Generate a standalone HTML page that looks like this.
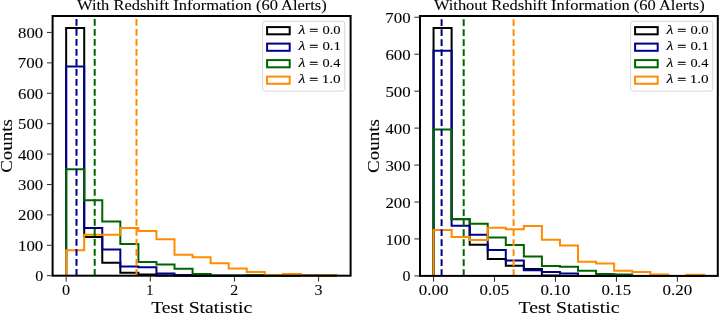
<!DOCTYPE html>
<html><head><meta charset="utf-8"><style>
html,body{margin:0;padding:0;background:#fff;}
svg{display:block;will-change:transform;}
text{font-family:"Liberation Serif",serif;fill:#000;stroke:#000;stroke-width:0.08px;}
.eq{stroke-width:0.3px;}
</style></head><body>
<svg width="719" height="313" viewBox="0 0 719 313">
<rect width="719" height="313" fill="#fff"/>
<path d="M66.15,275.70 L66.15,27.89 L84.21,27.89 L84.21,237.08 L102.27,237.08 L102.27,262.63 L120.33,262.63 L120.33,272.66 L138.39,272.66 L138.39,274.48 L156.45,274.48 L156.45,275.40 L174.51,275.40 L174.51,275.70 L192.57,275.70 L192.57,275.70 L210.63,275.70 L210.63,275.70 L228.69,275.70 L228.69,275.70 L246.75,275.70 L246.75,275.70 L264.81,275.70 L264.81,275.70 L282.87,275.70 L282.87,275.70 L300.93,275.70 L300.93,275.70 L318.99,275.70 L318.99,275.70 L337.05,275.70 L337.05,275.70" fill="none" stroke="#000000" stroke-width="2" stroke-linejoin="miter" stroke-linecap="butt"/>
<path d="M66.15,275.70 L66.15,66.51 L84.21,66.51 L84.21,227.96 L102.27,227.96 L102.27,249.55 L120.33,249.55 L120.33,266.58 L138.39,266.58 L138.39,267.19 L156.45,267.19 L156.45,273.57 L174.51,273.57 L174.51,275.09 L192.57,275.09 L192.57,275.70 L210.63,275.70 L210.63,275.70 L228.69,275.70 L228.69,275.70 L246.75,275.70 L246.75,275.70 L264.81,275.70 L264.81,275.70 L282.87,275.70 L282.87,275.70 L300.93,275.70 L300.93,275.70 L318.99,275.70 L318.99,275.70 L337.05,275.70 L337.05,275.70" fill="none" stroke="#00008b" stroke-width="2" stroke-linejoin="miter" stroke-linecap="butt"/>
<path d="M66.15,275.70 L66.15,169.28 L84.21,169.28 L84.21,200.29 L102.27,200.29 L102.27,221.58 L120.33,221.58 L120.33,244.08 L138.39,244.08 L138.39,262.02 L156.45,262.02 L156.45,264.45 L174.51,264.45 L174.51,268.71 L192.57,268.71 L192.57,273.88 L210.63,273.88 L210.63,275.70 L228.69,275.70 L228.69,275.70 L246.75,275.70 L246.75,275.09 L264.81,275.09 L264.81,275.70 L282.87,275.70 L282.87,275.70 L300.93,275.70 L300.93,275.70 L318.99,275.70 L318.99,275.70 L337.05,275.70 L337.05,275.70" fill="none" stroke="#006400" stroke-width="2" stroke-linejoin="miter" stroke-linecap="butt"/>
<path d="M66.15,275.70 L66.15,250.16 L84.21,250.16 L84.21,234.65 L102.27,234.65 L102.27,234.65 L120.33,234.65 L120.33,227.96 L138.39,227.96 L138.39,231.00 L156.45,231.00 L156.45,239.21 L174.51,239.21 L174.51,254.72 L192.57,254.72 L192.57,257.30 L210.63,257.30 L210.63,263.23 L228.69,263.23 L228.69,268.40 L246.75,268.40 L246.75,272.05 L264.81,272.05 L264.81,275.09 L282.87,275.09 L282.87,273.88 L300.93,273.88 L300.93,275.70 L318.99,275.70 L318.99,275.40 L337.05,275.40 L337.05,275.70" fill="none" stroke="#ff8c00" stroke-width="2" stroke-linejoin="miter" stroke-linecap="butt"/>
<path d="M76.50,275.70 L76.50,16.00" stroke="#00008b" stroke-width="2" stroke-dasharray="6.6 3.4" fill="none"/>
<path d="M94.70,275.70 L94.70,16.00" stroke="#006400" stroke-width="2" stroke-dasharray="6.6 3.4" fill="none"/>
<path d="M136.50,275.70 L136.50,16.00" stroke="#ff8c00" stroke-width="2" stroke-dasharray="6.6 3.4" fill="none"/>
<rect x="52.6" y="16.0" width="298.00" height="259.70" fill="none" stroke="#000" stroke-width="2"/>
<path d="M66.15,276.70 L66.15,281.60" stroke="#000" stroke-width="0.85"/>
<text transform="translate(62.11,294.80) scale(1.0653,1)" style="font-size:15.17px;">0</text>
<path d="M150.30,276.70 L150.30,281.60" stroke="#000" stroke-width="0.85"/>
<text transform="translate(146.37,294.80) scale(0.9400,1)" style="font-size:15.29px;">1</text>
<path d="M234.45,276.70 L234.45,281.60" stroke="#000" stroke-width="0.85"/>
<text transform="translate(230.35,294.80) scale(1.0457,1)" style="font-size:15.24px;">2</text>
<path d="M318.60,276.70 L318.60,281.60" stroke="#000" stroke-width="0.85"/>
<text transform="translate(314.54,294.80) scale(1.0499,1)" style="font-size:15.24px;">3</text>
<path d="M47.00,275.70 L51.60,275.70" stroke="#000" stroke-width="0.85"/>
<text transform="translate(35.22,281.25) scale(1.0308,1)" style="font-size:15.51px;">0</text>
<path d="M47.00,245.29 L51.60,245.29" stroke="#000" stroke-width="0.85"/>
<text transform="translate(17.99,250.84) scale(1.0856,1)" style="font-size:15.51px;">100</text>
<path d="M47.00,214.89 L51.60,214.89" stroke="#000" stroke-width="0.85"/>
<text transform="translate(18.00,220.44) scale(1.0849,1)" style="font-size:15.51px;">200</text>
<path d="M47.00,184.48 L51.60,184.48" stroke="#000" stroke-width="0.85"/>
<text transform="translate(18.04,190.03) scale(1.0831,1)" style="font-size:15.51px;">300</text>
<path d="M47.00,154.08 L51.60,154.08" stroke="#000" stroke-width="0.85"/>
<text transform="translate(17.91,159.63) scale(1.0891,1)" style="font-size:15.51px;">400</text>
<path d="M47.00,123.67 L51.60,123.67" stroke="#000" stroke-width="0.85"/>
<text transform="translate(17.99,129.22) scale(1.0853,1)" style="font-size:15.51px;">500</text>
<path d="M47.00,93.26 L51.60,93.26" stroke="#000" stroke-width="0.85"/>
<text transform="translate(18.01,98.81) scale(1.0848,1)" style="font-size:15.51px;">600</text>
<path d="M47.00,62.86 L51.60,62.86" stroke="#000" stroke-width="0.85"/>
<text transform="translate(17.84,68.41) scale(1.0921,1)" style="font-size:15.51px;">700</text>
<path d="M47.00,32.45 L51.60,32.45" stroke="#000" stroke-width="0.85"/>
<text transform="translate(18.09,38.00) scale(1.0810,1)" style="font-size:15.51px;">800</text>
<text transform="translate(77.08,10.20) scale(1.1455,1)" style="font-size:14.36px;">With Redshift Information (60 Alerts)</text>
<text transform="translate(151.19,312.70) scale(1.1532,1)" style="font-size:17.10px;">Test Statistic</text>
<g transform="translate(12.00,145.85) rotate(-90)"><text transform="translate(-26.93,0.00) scale(1.1091,1)" style="font-size:17.10px;">Counts</text></g>
<rect x="262.60" y="21.3" width="82.2" height="69.8" rx="2.5" ry="2.5" fill="#fff" fill-opacity="0.8" stroke="#cccccc" stroke-opacity="0.8" stroke-width="1"/>
<rect x="267.10" y="27.10" width="22.6" height="7.2" fill="none" stroke="#000000" stroke-width="2"/>
<text transform="translate(298.48,33.90) scale(1.3536,1)" style="font-size:11.80px;font-style:italic;">λ</text>
<text transform="translate(309.30,34.90) scale(1.2087,1)" style="font-size:13.17px;" class="eq">=</text>
<text transform="translate(322.45,33.90) scale(1.1063,1)" style="font-size:13.17px;">0.0</text>
<rect x="267.10" y="43.60" width="22.6" height="7.2" fill="none" stroke="#00008b" stroke-width="2"/>
<text transform="translate(298.48,50.40) scale(1.3536,1)" style="font-size:11.80px;font-style:italic;">λ</text>
<text transform="translate(309.30,51.40) scale(1.2087,1)" style="font-size:13.17px;" class="eq">=</text>
<text transform="translate(322.44,50.40) scale(1.1274,1)" style="font-size:13.17px;">0.1</text>
<rect x="267.10" y="60.10" width="22.6" height="7.2" fill="none" stroke="#006400" stroke-width="2"/>
<text transform="translate(298.48,66.90) scale(1.3536,1)" style="font-size:11.80px;font-style:italic;">λ</text>
<text transform="translate(309.30,67.90) scale(1.2087,1)" style="font-size:13.17px;" class="eq">=</text>
<text transform="translate(322.46,66.90) scale(1.0859,1)" style="font-size:13.17px;">0.4</text>
<rect x="267.10" y="76.60" width="22.6" height="7.2" fill="none" stroke="#ff8c00" stroke-width="2"/>
<text transform="translate(298.48,83.40) scale(1.3536,1)" style="font-size:11.80px;font-style:italic;">λ</text>
<text transform="translate(309.30,84.40) scale(1.2087,1)" style="font-size:13.17px;" class="eq">=</text>
<text transform="translate(321.66,83.40) scale(1.1555,1)" style="font-size:13.17px;">1.0</text>
<path d="M433.55,275.90 L433.55,27.97 L451.61,27.97 L451.61,219.37 L469.67,219.37 L469.67,244.86 L487.73,244.86 L487.73,258.90 L505.79,258.90 L505.79,265.70 L523.85,265.70 L523.85,268.88 L541.91,268.88 L541.91,275.53 L559.97,275.53 L559.97,275.90 L578.03,275.90 L578.03,275.90 L596.09,275.90 L596.09,275.90 L614.15,275.90 L614.15,275.90 L632.21,275.90 L632.21,275.90 L650.27,275.90 L650.27,275.90 L668.33,275.90 L668.33,275.90 L686.39,275.90 L686.39,275.90 L704.45,275.90 L704.45,275.90" fill="none" stroke="#000000" stroke-width="2" stroke-linejoin="miter" stroke-linecap="butt"/>
<path d="M433.55,275.90 L433.55,50.87 L451.61,50.87 L451.61,225.65 L469.67,225.65 L469.67,234.70 L487.73,234.70 L487.73,250.03 L505.79,250.03 L505.79,260.38 L523.85,260.38 L523.85,270.36 L541.91,270.36 L541.91,271.91 L559.97,271.91 L559.97,273.50 L578.03,273.50 L578.03,275.90 L596.09,275.90 L596.09,275.90 L614.15,275.90 L614.15,275.90 L632.21,275.90 L632.21,275.90 L650.27,275.90 L650.27,275.90 L668.33,275.90 L668.33,275.90 L686.39,275.90 L686.39,275.90 L704.45,275.90 L704.45,275.90" fill="none" stroke="#00008b" stroke-width="2" stroke-linejoin="miter" stroke-linecap="butt"/>
<path d="M433.55,275.90 L433.55,129.58 L451.61,129.58 L451.61,219.00 L469.67,219.00 L469.67,223.80 L487.73,223.80 L487.73,237.47 L505.79,237.47 L505.79,245.01 L523.85,245.01 L523.85,256.50 L541.91,256.50 L541.91,266.11 L559.97,266.11 L559.97,266.66 L578.03,266.66 L578.03,270.80 L596.09,270.80 L596.09,274.05 L614.15,274.05 L614.15,274.42 L632.21,274.42 L632.21,275.90 L650.27,275.90 L650.27,275.90 L668.33,275.90 L668.33,275.90 L686.39,275.90 L686.39,275.90 L704.45,275.90 L704.45,275.90" fill="none" stroke="#006400" stroke-width="2" stroke-linejoin="miter" stroke-linecap="butt"/>
<path d="M433.55,275.90 L433.55,230.08 L451.61,230.08 L451.61,236.92 L469.67,236.92 L469.67,240.06 L487.73,240.06 L487.73,227.86 L505.79,227.86 L505.79,229.34 L523.85,229.34 L523.85,226.02 L541.91,226.02 L541.91,239.69 L559.97,239.69 L559.97,245.60 L578.03,245.60 L578.03,261.71 L596.09,261.71 L596.09,263.56 L614.15,263.56 L614.15,270.80 L632.21,270.80 L632.21,271.91 L650.27,271.91 L650.27,274.42 L668.33,274.42 L668.33,275.90 L686.39,275.90 L686.39,274.79 L704.45,274.79 L704.45,275.90" fill="none" stroke="#ff8c00" stroke-width="2" stroke-linejoin="miter" stroke-linecap="butt"/>
<path d="M441.60,275.90 L441.60,16.00" stroke="#00008b" stroke-width="2" stroke-dasharray="6.6 3.4" fill="none"/>
<path d="M463.70,275.90 L463.70,16.00" stroke="#006400" stroke-width="2" stroke-dasharray="6.6 3.4" fill="none"/>
<path d="M513.60,275.90 L513.60,16.00" stroke="#ff8c00" stroke-width="2" stroke-dasharray="6.6 3.4" fill="none"/>
<rect x="420.0" y="16.0" width="297.80" height="259.90" fill="none" stroke="#000" stroke-width="2"/>
<path d="M433.55,276.90 L433.55,281.80" stroke="#000" stroke-width="0.85"/>
<text transform="translate(418.66,294.80) scale(1.1211,1)" style="font-size:15.17px;">0.00</text>
<path d="M494.51,276.90 L494.51,281.80" stroke="#000" stroke-width="0.85"/>
<text transform="translate(479.62,294.80) scale(1.1159,1)" style="font-size:15.17px;">0.05</text>
<path d="M555.47,276.90 L555.47,281.80" stroke="#000" stroke-width="0.85"/>
<text transform="translate(540.58,294.80) scale(1.1211,1)" style="font-size:15.17px;">0.10</text>
<path d="M616.43,276.90 L616.43,281.80" stroke="#000" stroke-width="0.85"/>
<text transform="translate(601.54,294.80) scale(1.1159,1)" style="font-size:15.17px;">0.15</text>
<path d="M677.39,276.90 L677.39,281.80" stroke="#000" stroke-width="0.85"/>
<text transform="translate(662.50,294.80) scale(1.1211,1)" style="font-size:15.17px;">0.20</text>
<path d="M414.40,275.90 L419.00,275.90" stroke="#000" stroke-width="0.85"/>
<text transform="translate(402.62,281.45) scale(1.0308,1)" style="font-size:15.51px;">0</text>
<path d="M414.40,238.95 L419.00,238.95" stroke="#000" stroke-width="0.85"/>
<text transform="translate(385.39,244.50) scale(1.0856,1)" style="font-size:15.51px;">100</text>
<path d="M414.40,202.00 L419.00,202.00" stroke="#000" stroke-width="0.85"/>
<text transform="translate(385.40,207.55) scale(1.0849,1)" style="font-size:15.51px;">200</text>
<path d="M414.40,165.05 L419.00,165.05" stroke="#000" stroke-width="0.85"/>
<text transform="translate(385.44,170.60) scale(1.0831,1)" style="font-size:15.51px;">300</text>
<path d="M414.40,128.10 L419.00,128.10" stroke="#000" stroke-width="0.85"/>
<text transform="translate(385.31,133.65) scale(1.0891,1)" style="font-size:15.51px;">400</text>
<path d="M414.40,91.15 L419.00,91.15" stroke="#000" stroke-width="0.85"/>
<text transform="translate(385.39,96.70) scale(1.0853,1)" style="font-size:15.51px;">500</text>
<path d="M414.40,54.20 L419.00,54.20" stroke="#000" stroke-width="0.85"/>
<text transform="translate(385.41,59.75) scale(1.0848,1)" style="font-size:15.51px;">600</text>
<path d="M414.40,17.25 L419.00,17.25" stroke="#000" stroke-width="0.85"/>
<text transform="translate(385.24,22.80) scale(1.0921,1)" style="font-size:15.51px;">700</text>
<text transform="translate(433.88,10.20) scale(1.1462,1)" style="font-size:14.36px;">Without Redshift Information (60 Alerts)</text>
<text transform="translate(518.49,312.70) scale(1.1532,1)" style="font-size:17.10px;">Test Statistic</text>
<g transform="translate(379.40,145.95) rotate(-90)"><text transform="translate(-26.93,0.00) scale(1.1091,1)" style="font-size:17.10px;">Counts</text></g>
<rect x="630.60" y="21.3" width="82.2" height="69.8" rx="2.5" ry="2.5" fill="#fff" fill-opacity="0.8" stroke="#cccccc" stroke-opacity="0.8" stroke-width="1"/>
<rect x="635.10" y="27.10" width="22.6" height="7.2" fill="none" stroke="#000000" stroke-width="2"/>
<text transform="translate(666.48,33.90) scale(1.3536,1)" style="font-size:11.80px;font-style:italic;">λ</text>
<text transform="translate(677.30,34.90) scale(1.2087,1)" style="font-size:13.17px;" class="eq">=</text>
<text transform="translate(690.45,33.90) scale(1.1063,1)" style="font-size:13.17px;">0.0</text>
<rect x="635.10" y="43.60" width="22.6" height="7.2" fill="none" stroke="#00008b" stroke-width="2"/>
<text transform="translate(666.48,50.40) scale(1.3536,1)" style="font-size:11.80px;font-style:italic;">λ</text>
<text transform="translate(677.30,51.40) scale(1.2087,1)" style="font-size:13.17px;" class="eq">=</text>
<text transform="translate(690.44,50.40) scale(1.1274,1)" style="font-size:13.17px;">0.1</text>
<rect x="635.10" y="60.10" width="22.6" height="7.2" fill="none" stroke="#006400" stroke-width="2"/>
<text transform="translate(666.48,66.90) scale(1.3536,1)" style="font-size:11.80px;font-style:italic;">λ</text>
<text transform="translate(677.30,67.90) scale(1.2087,1)" style="font-size:13.17px;" class="eq">=</text>
<text transform="translate(690.46,66.90) scale(1.0859,1)" style="font-size:13.17px;">0.4</text>
<rect x="635.10" y="76.60" width="22.6" height="7.2" fill="none" stroke="#ff8c00" stroke-width="2"/>
<text transform="translate(666.48,83.40) scale(1.3536,1)" style="font-size:11.80px;font-style:italic;">λ</text>
<text transform="translate(677.30,84.40) scale(1.2087,1)" style="font-size:13.17px;" class="eq">=</text>
<text transform="translate(689.66,83.40) scale(1.1555,1)" style="font-size:13.17px;">1.0</text>
</svg>
</body></html>
